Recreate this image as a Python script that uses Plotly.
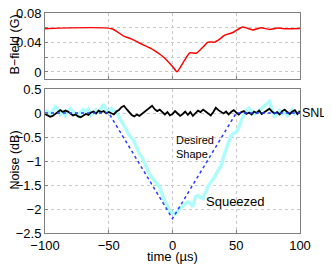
import plotly.graph_objects as go

# ---- data ----
b_t = [-100, -47.7, -38.6, -32, -23, -15, -6, 0.5, 3.6, 9.6, 13.5, 18.7, 24, 27.8, 33, 37, 41, 47.4, 55, 63, 69.5, 76, 82.5, 89, 100]
b_val = [0.0587, 0.0587, 0.049, 0.0446, 0.0368, 0.030, 0.0187, 0.0064, 0.0005, 0.0164, 0.026, 0.0255, 0.034, 0.0405, 0.0405, 0.0446, 0.050, 0.0536, 0.061, 0.057, 0.060, 0.0577, 0.0596, 0.0587, 0.059]

t = list(range(-100, 101, 2))
snl = [-0.02, -0.05, -0.08, -0.06, -0.02, 0.03, 0.06, 0.02, 0.05, 0.03,
       -0.02, -0.05, -0.03, -0.07, -0.09, -0.05, -0.02, -0.04, 0.01, 0.03,
       -0.01, 0.05, 0.02, 0.04, -0.01, 0.02, 0.0, -0.03, 0.03, 0.06,
       0.12, 0.15, 0.08, 0.02, -0.04, -0.07, -0.03, -0.06, -0.02, 0.03,
       0.06, 0.1, 0.15, 0.08, 0.04, 0.07, 0.01, -0.03, 0.02, -0.05,
       -0.02, 0.04, -0.01, -0.06, -0.02, 0.03, -0.04, 0.02, -0.06, 0.0,
       0.05, 0.02, 0.07, 0.03, -0.02, -0.05, 0.02, 0.11, 0.06, 0.02,
       -0.01, 0.03, -0.03, 0.02, 0.06, 0.01, -0.03, 0.02, 0.04, -0.02,
       0.01, -0.03, 0.03, 0.0, 0.05, -0.02, 0.02, 0.06, 0.09, 0.03,
       -0.01, 0.02, -0.03, 0.04, 0.07, 0.02, -0.02, 0.03, 0.06, -0.02, 0.04]
squeezed = [0.05, 0.02, -0.04, 0.06, 0.13, 0.08, -0.03, 0.02, -0.05, 0.04,
            0.09, 0.03, -0.02, -0.06, 0.02, 0.07, 0.03, 0.08, -0.04, 0.01,
            0.06, 0.02, 0.10, 0.18, 0.06, 0.02, 0.09, 0.04, 0.02, -0.08,
            -0.18, -0.28, -0.38, -0.46, -0.52, -0.60, -0.72, -0.85, -0.92, -1.02,
            -1.15, -1.28, -1.35, -1.42, -1.48, -1.55, -1.70, -1.85, -1.93, -2.05,
            -2.08, -2.11, -2.05, -1.98, -1.95, -1.90, -1.85, -1.88, -1.95, -1.75,
            -1.72, -1.76, -1.78, -1.65, -1.52, -1.45, -1.38, -1.29, -1.18, -1.12,
            -0.92, -0.74, -0.60, -0.48, -0.42, -0.40, -0.30, -0.15, -0.05, 0.06,
            0.10, 0.04, -0.02, 0.0, 0.05, 0.10, 0.15, 0.20, 0.24, 0.08,
            -0.06, -0.03, 0.05, -0.02, 0.03, -0.05, 0.02, 0.06, -0.02, 0.01, 0.03]
desired_t = [-100, -50, 0, 50, 100]
desired_val = [0, 0, -2.2, 0, 0]

x_ticks = [-100, -50, 0, 50, 100]
b_ticks = [0, 0.02, 0.04, 0.06, 0.08]
b_ticktext = ["0", "", "0.04", "", "0.08"]
n_ticks = [-2.5, -2, -1.5, -1, -0.5, 0, 0.5]

FONT = "Liberation Sans"
OFF = 8  # the page places the figure 8 px from the window's top-left corner
W, H = 332 - OFF, 266 - OFF
L, R, T, B = 45 - OFF, 32, 13 - OFF, 33

fig = go.Figure()
fig.add_trace(go.Scatter(x=b_t, y=b_val, mode="lines", line=dict(color="red", width=1.5, shape="spline", smoothing=0.6),
                         xaxis="x2", yaxis="y2", showlegend=False))
fig.add_trace(go.Scatter(x=t, y=squeezed, mode="lines", line=dict(color="#aefcfc", width=3.5),
                         showlegend=False))
fig.add_trace(go.Scatter(x=t, y=snl, mode="lines", line=dict(color="black", width=1.8),
                         showlegend=False))
fig.add_trace(go.Scatter(x=desired_t, y=desired_val, mode="lines", line=dict(color="#2a3cff", width=1.5, dash="3px,3px"),
                         showlegend=False))

ax_common = dict(showline=True, mirror=True, linecolor="#7f7f7f", linewidth=1,
                 ticks="inside", ticklen=3, tickcolor="#7f7f7f",
                 showgrid=True, gridcolor="#c8c8c8", griddash="dot", gridwidth=1,
                 zeroline=False, automargin=False, ticklabeloverflow="allow",
                 tickfont=dict(family=FONT, size=13, color="black"))

fig.update_layout(
    width=W, height=H, margin=dict(l=L, r=R, t=T, b=B, autoexpand=False),
    paper_bgcolor="white", plot_bgcolor="white",
    font=dict(family=FONT, size=13, color="black"),
    xaxis=dict(range=[-100, 100], tickvals=x_ticks, domain=[0, 1], anchor="y", **ax_common),
    yaxis=dict(range=[-2.5, 0.5], tickvals=n_ticks, domain=[0, 0.6545], anchor="x", **ax_common),
    xaxis2=dict(range=[-100, 100], tickvals=x_ticks, showticklabels=False, domain=[0, 1], anchor="y2", **ax_common),
    yaxis2=dict(range=[-0.0095, 0.08], tickvals=b_ticks, ticktext=b_ticktext, domain=[0.7, 1], anchor="x2", **ax_common),
)

# screen pixel -> paper coordinates
def paper_x(px):
    return (px - 45) / 255

def paper_y(py):
    return (233 - py) / 220

anns = [
    dict(text="B\u2212field (G)", x=paper_x(14.5), y=paper_y(45), textangle=-90, font=dict(size=12.5)),
    dict(text="Noise (dB)", x=paper_x(14.5), y=paper_y(160), textangle=-90, font=dict(size=12.5)),
    dict(text="time (\u00b5s)", x=paper_x(172), y=paper_y(256.5), font=dict(size=13)),
]
for a in anns:
    fig.add_annotation(xref="paper", yref="paper", showarrow=False, xanchor="center", yanchor="middle", **a)

fig.add_annotation(text="SNL", xref="paper", yref="y", x=paper_x(300), y=0, xanchor="left", yanchor="middle",
                   showarrow=False, font=dict(size=12.5))
fig.add_annotation(text="Desired<br>Shape", xref="x", yref="y", x=1, y=-0.71, xanchor="left", yanchor="middle",
                   align="left", showarrow=False, font=dict(size=11))
fig.add_annotation(text="Squeezed", xref="x", yref="y", x=25, y=-1.85, xanchor="left", yanchor="middle",
                   showarrow=False, font=dict(size=13))

fig.write_html("out.html")
